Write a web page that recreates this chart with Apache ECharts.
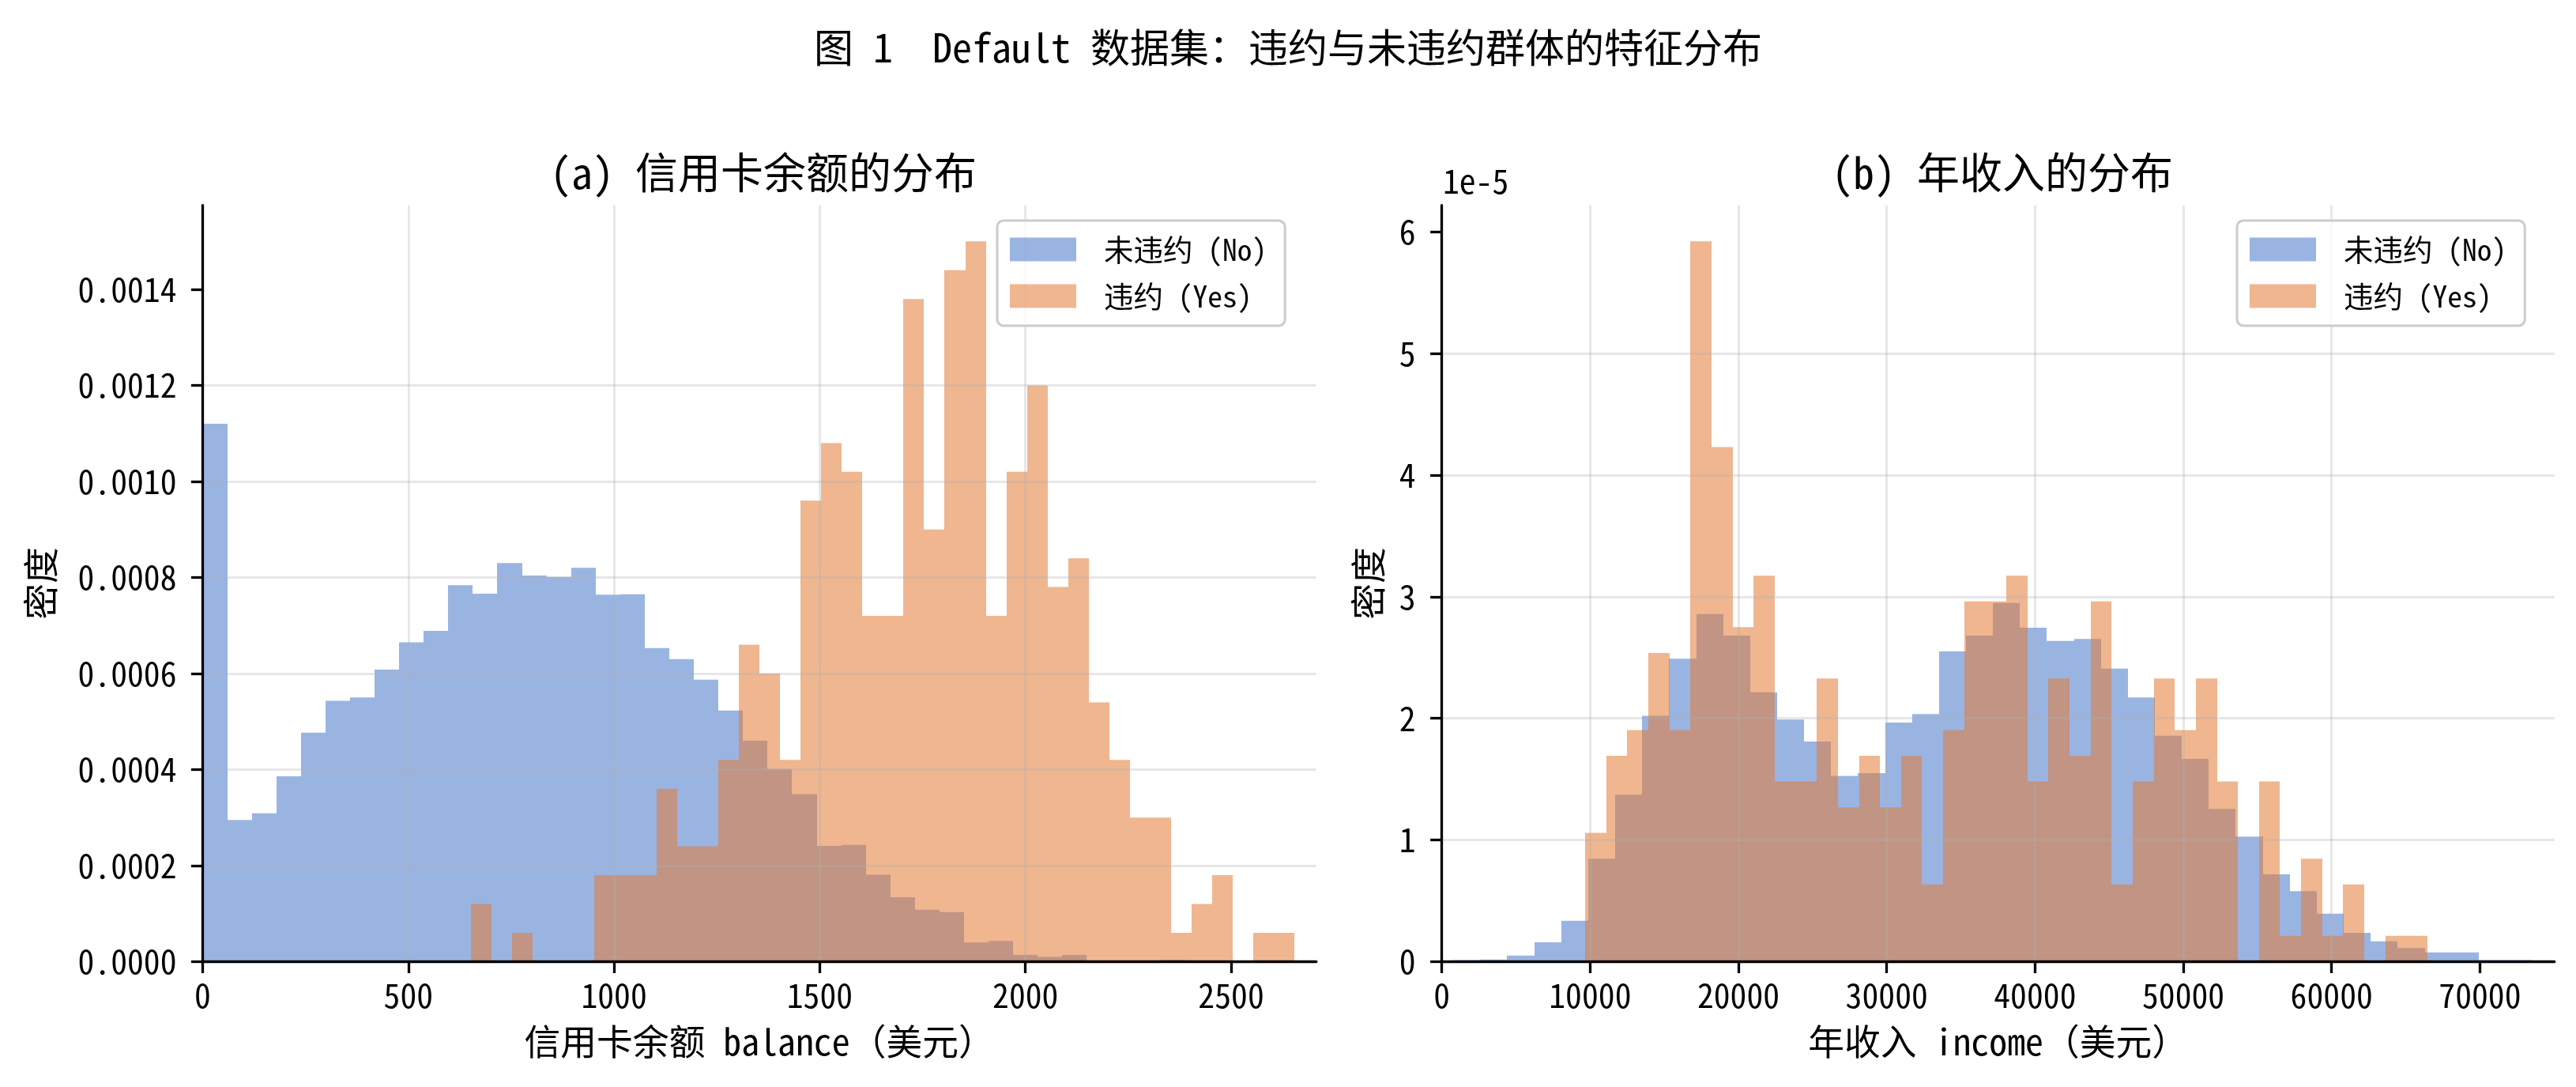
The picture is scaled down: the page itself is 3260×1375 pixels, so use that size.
<!DOCTYPE html>
<html>
<head>
<meta charset="utf-8">
<title>Default 数据集</title>
<script src="https://cdn.jsdelivr.net/npm/echarts@6/dist/echarts.min.js"></script>
<style>
  html, body { margin: 0; padding: 0; background: #fff; }
  #chart { width: 3260px; height: 1375px; }
</style>
</head>
<body>
<div id="chart"></div>
<script>
// 直方图（密度），每组 40 个箱：起点 + 箱宽 + 各箱高度
const balanceNoStart = 0;
const balanceNoWidth = 59.7;
const balanceNo = [
  0.001120, 0.000295, 0.000309, 0.000386, 0.000477, 0.000543, 0.000550, 0.000608, 0.000665, 0.000689,
  0.000784, 0.000766, 0.000830, 0.000804, 0.000801, 0.000820, 0.000764, 0.000765, 0.000653, 0.000630,
  0.000587, 0.000523, 0.000460, 0.000401, 0.000349, 0.000241, 0.000243, 0.000181, 0.000134, 0.000108,
  0.000103, 0.000040, 0.000043, 0.000014, 0.000010, 0.000014, 0.0000017, 0, 0, 0.0000035
];

const balanceYesStart = 652.4;
const balanceYesWidth = 50.05;
const balanceYes = [
  0.00012, 0, 0.00006, 0, 0, 0, 0.00018, 0.00018, 0.00018, 0.00036,
  0.00024, 0.00024, 0.00042, 0.00066, 0.00060, 0.00042, 0.00096, 0.00108, 0.00102, 0.00072,
  0.00072, 0.00138, 0.00090, 0.00144, 0.00150, 0.00072, 0.00102, 0.00120, 0.00078, 0.00084,
  0.00054, 0.00042, 0.00030, 0.00030, 0.00006, 0.00012, 0.00018, 0, 0.00006, 0.00006
];

const incomeNoStart = 772;
const incomeNoWidth = 1819.6;
const incomeNo = [
  0.012e-5, 0.017e-5, 0.050e-5, 0.158e-5, 0.336e-5, 0.846e-5, 1.372e-5, 2.020e-5, 2.490e-5, 2.857e-5,
  2.680e-5, 2.214e-5, 1.990e-5, 1.810e-5, 1.526e-5, 1.550e-5, 1.965e-5, 2.036e-5, 2.550e-5, 2.680e-5,
  2.948e-5, 2.745e-5, 2.637e-5, 2.653e-5, 2.409e-5, 2.172e-5, 1.857e-5, 1.667e-5, 1.256e-5, 1.028e-5,
  0.717e-5, 0.580e-5, 0.394e-5, 0.236e-5, 0.166e-5, 0.112e-5, 0.075e-5, 0.075e-5, 0.012e-5, 0.012e-5
];

const incomeYesStart = 9664;
const incomeYesWidth = 1420;
const incomeYes = [
  1.058e-5, 1.692e-5, 1.904e-5, 2.538e-5, 1.904e-5, 5.922e-5, 4.230e-5, 2.750e-5, 3.173e-5, 1.481e-5,
  1.481e-5, 2.327e-5, 1.269e-5, 1.692e-5, 1.269e-5, 1.692e-5, 0.635e-5, 1.904e-5, 2.961e-5, 2.961e-5,
  3.173e-5, 1.481e-5, 2.327e-5, 1.692e-5, 2.961e-5, 0.635e-5, 1.481e-5, 2.327e-5, 1.904e-5, 2.327e-5,
  1.481e-5, 0, 1.481e-5, 0.212e-5, 0.846e-5, 0.212e-5, 0.635e-5, 0, 0.212e-5, 0.212e-5
];

const balanceXTicks = [0, 500, 1000, 1500, 2000, 2500];
const balanceYTicks = [0, 0.0002, 0.0004, 0.0006, 0.0008, 0.0010, 0.0012, 0.0014];
const incomeXTicks = [0, 10000, 20000, 30000, 40000, 50000, 60000, 70000];
const incomeYTicks = [0, 1e-5, 2e-5, 3e-5, 4e-5, 5e-5, 6e-5];

const groupNames = ['未违约 (No)', '违约 (Yes)'];

const FONT = "'Noto Sans Mono CJK SC', 'Noto Sans CJK SC', sans-serif";
const BLUE = 'rgba(71,119,202,0.55)';
const ORANGE = 'rgba(226,122,53,0.55)';
const GRID_LINE = 'rgba(176,176,176,0.3)';

function toBins(start, width, heights) {
  return heights.map((h, i) => [start + i * width, start + (i + 1) * width, h]);
}

function renderBin(params, api) {
  const top = api.coord([api.value(0), api.value(2)]);
  const base = api.coord([api.value(1), 0]);
  const x0 = Math.round(top[0]);
  const x1 = Math.round(base[0]);
  return {
    type: 'rect',
    shape: { x: x0, y: top[1], width: x1 - x0, height: base[1] - top[1] },
    style: { fill: api.visual('color') }
  };
}

function histSeries(name, color, idx, bins) {
  return {
    name: name,
    type: 'custom',
    xAxisIndex: idx,
    yAxisIndex: idx,
    itemStyle: { color: color },
    encode: { x: [0, 1], y: 2 },
    renderItem: renderBin,
    data: bins
  };
}

function xAxisOf(idx, max, ticks, name) {
  return {
    type: 'value', gridIndex: idx, min: 0, max: max, interval: ticks[1] - ticks[0], z: 3,
    name: name, nameLocation: 'middle', nameGap: 78,
    nameTextStyle: { fontSize: 45.8, color: '#000' },
    axisLine: { show: true, lineStyle: { color: '#000', width: 3.3 } },
    axisTick: { show: true, length: 14.6, lineStyle: { color: '#000', width: 3.3 }, customValues: ticks },
    axisLabel: { fontSize: 41.7, color: '#000', margin: 22, customValues: ticks, formatter: v => String(v) },
    splitLine: { show: true, showMaxLine: false, lineStyle: { color: GRID_LINE, width: 3 } }
  };
}

function yAxisOf(idx, max, ticks, gap, fmt) {
  return {
    type: 'value', gridIndex: idx, min: 0, max: max, interval: ticks[1] - ticks[0], z: 3,
    name: '密度', nameLocation: 'middle', nameRotate: 90, nameGap: gap,
    nameTextStyle: { fontSize: 45.8, color: '#000' },
    axisLine: { show: true, lineStyle: { color: '#000', width: 3.3 } },
    axisTick: { show: true, length: 14.6, lineStyle: { color: '#000', width: 3.3 }, customValues: ticks },
    axisLabel: { fontSize: 41.7, color: '#000', margin: 33, customValues: ticks, formatter: fmt },
    splitLine: { show: true, showMaxLine: false, lineStyle: { color: GRID_LINE, width: 3 } }
  };
}

function legendAt(left) {
  return {
    data: groupNames, orient: 'vertical', left: left, top: 279,
    icon: 'rect', itemWidth: 84, itemHeight: 30, itemGap: 20,
    padding: [17, 23, 18, 16], selectedMode: false,
    backgroundColor: 'rgba(255,255,255,0.8)', borderColor: '#cccccc', borderWidth: 3, borderRadius: 8,
    textStyle: { fontSize: 37.5, color: '#000', lineHeight: 39, padding: [0, 0, 0, 30] }
  };
}

const chart = echarts.init(document.getElementById('chart'), null, { renderer: 'canvas' });

const option = {
  animation: false,
  backgroundColor: '#fff',
  textStyle: { fontFamily: FONT },
  title: [
    { text: '图 1  Default 数据集：违约与未违约群体的特征分布', left: 'center', top: 30,
      textStyle: { fontSize: 50, fontWeight: 'normal', color: '#000' } },
    { text: '(a) 信用卡余额的分布', left: 961, textAlign: 'center', top: 186,
      textStyle: { fontSize: 54, fontWeight: 'normal', color: '#000' } },
    { text: '(b) 年收入的分布', left: 2529, textAlign: 'center', top: 186,
      textStyle: { fontSize: 54, fontWeight: 'normal', color: '#000' } }
  ],
  legend: [legendAt(1262), legendAt(2831)],
  grid: [
    { left: 256.5, top: 259.7, width: 1409.3, height: 956.7 },
    { left: 1824.7, top: 259.7, width: 1408, height: 956.7 }
  ],
  xAxis: [
    xAxisOf(0, 2707, balanceXTicks, '信用卡余额 balance（美元）'),
    xAxisOf(1, 75025, incomeXTicks, '年收入 income（美元）')
  ],
  yAxis: [
    yAxisOf(0, 0.001575, balanceYTicks, 182, v => v.toFixed(4)),
    yAxisOf(1, 6.218e-5, incomeYTicks, 70, v => String(Math.round(v / 1e-5)))
  ],
  graphic: [
    { type: 'text', left: 1826, top: 208,
      style: { text: '1e-5', font: '41.7px ' + FONT, fill: '#000' } }
  ],
  series: [
    histSeries(groupNames[0], BLUE, 0, toBins(balanceNoStart, balanceNoWidth, balanceNo)),
    histSeries(groupNames[1], ORANGE, 0, toBins(balanceYesStart, balanceYesWidth, balanceYes)),
    histSeries(groupNames[0], BLUE, 1, toBins(incomeNoStart, incomeNoWidth, incomeNo)),
    histSeries(groupNames[1], ORANGE, 1, toBins(incomeYesStart, incomeYesWidth, incomeYes))
  ]
};

chart.setOption(option);
</script>
</body>
</html>
